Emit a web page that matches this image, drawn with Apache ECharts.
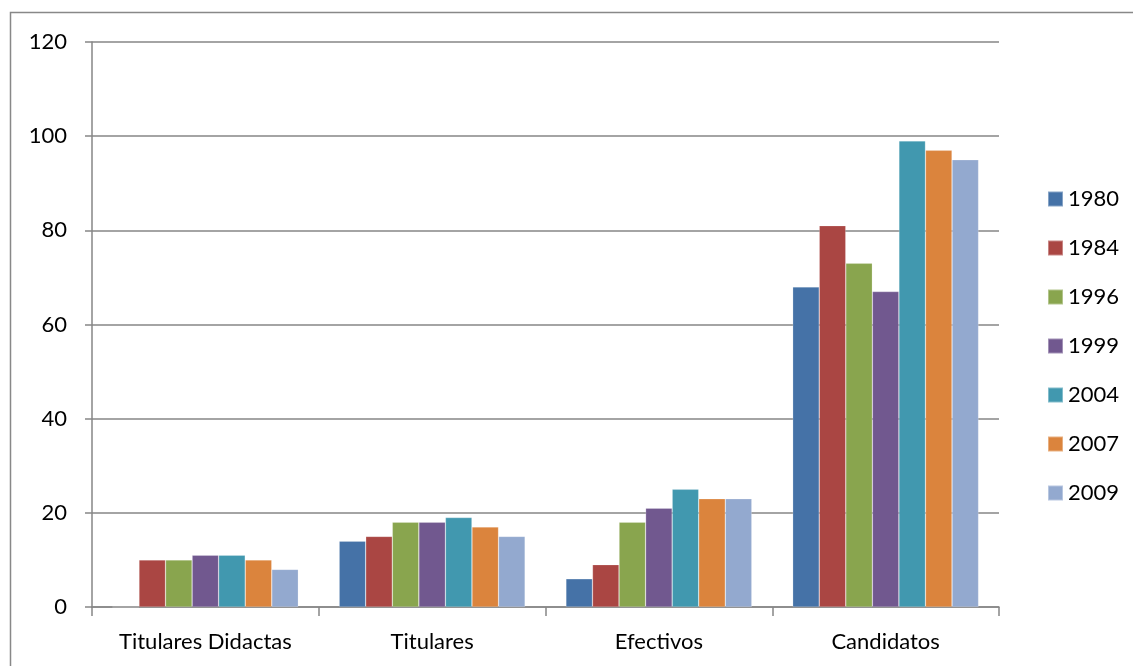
<!DOCTYPE html>
<html>
<head>
<meta charset="utf-8">
<script src="https://cdn.jsdelivr.net/npm/echarts@6/dist/echarts.min.js"></script>
<style>
  html, body { margin: 0; padding: 0; background: #fff; }
  #chart { width: 1133px; height: 666px; }
</style>
</head>
<body>
<div id="chart"></div>
<script>
const categories = ['Titulares Didactas', 'Titulares', 'Efectivos', 'Candidatos'];
const years = ['1980', '1984', '1996', '1999', '2004', '2007', '2009'];
const colors = ['#4572A7', '#AA4643', '#89A54E', '#71588F', '#4198AF', '#DB843D', '#93A9CF'];

const v1980 = [0, 14, 6, 68];
const v1984 = [10, 15, 9, 81];
const v1996 = [10, 18, 18, 73];
const v1999 = [11, 18, 21, 67];
const v2004 = [11, 19, 25, 99];
const v2007 = [10, 17, 23, 97];
const v2009 = [8, 15, 23, 95];
const values = [v1980, v1984, v1996, v1999, v2004, v2007, v2009];

const yTicks = [0, 20, 40, 60, 80, 100, 120];

const font = 'Lato, "Open Sans", sans-serif';
const chart = echarts.init(document.getElementById('chart'));

chart.setOption({
  animation: false,
  textStyle: { fontFamily: font },
  graphic: [{
    type: 'rect',
    shape: { x: 10.5, y: 12.5, width: 1200, height: 800 },
    style: { fill: 'none', stroke: '#888', lineWidth: 1.5 },
    silent: true
  }],
  grid: { left: 92, right: 134, top: 42, bottom: 59 },
  legend: {
    orient: 'vertical',
    left: 1042,
    top: 183,
    itemWidth: 15,
    itemHeight: 15,
    itemGap: 27,
    icon: 'rect',
    textStyle: { fontSize: 22, color: '#000', fontFamily: font, padding: [0, 0, 0, 0] },
    data: years
  },
  xAxis: {
    type: 'category',
    data: categories,
    axisLine: { lineStyle: { color: '#868686', width: 1.5 } },
    axisTick: { show: true, length: 9, lineStyle: { color: '#868686', width: 1.5 } },
    axisLabel: { fontSize: 22, color: '#000', margin: 24, fontFamily: font }
  },
  yAxis: {
    type: 'value',
    min: yTicks[0],
    max: yTicks[yTicks.length - 1],
    interval: 20,
    axisLine: { show: true, lineStyle: { color: '#868686', width: 1.5 } },
    axisTick: { show: true, length: 7, lineStyle: { color: '#868686', width: 1.5 } },
    splitLine: { lineStyle: { color: '#868686', width: 1.5 } },
    axisLabel: { fontSize: 22, color: '#000', margin: 25, fontFamily: font }
  },
  series: years.map((y, i) => ({
    name: y,
    type: 'bar',
    data: values[i],
    barGap: '0%',
    barCategoryGap: '18%',
    itemStyle: { color: colors[i], borderColor: 'rgba(255,255,255,0.35)', borderWidth: 0.6 }
  }))
});
</script>
</body>
</html>
